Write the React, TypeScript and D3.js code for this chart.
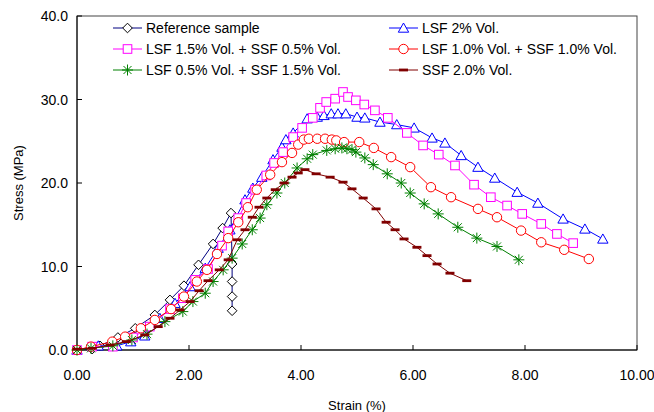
import * as d3 from 'd3';

const xTicks = [0, 2, 4, 6, 8, 10];
const yTicks = [0, 10, 20, 30, 40];

// [strain %, stress MPa]
const referenceSample = [
  [0, 0], [0.27, 0.1], [0.41, 0.5], [0.73, 1.5], [1.04, 2.6], [1.39, 4.2], [1.66, 6.0],
  [1.91, 7.7], [2.17, 10.2], [2.43, 12.7], [2.6, 14.6], [2.75, 16.4], [2.77, 10.3],
  [2.77, 8.2], [2.77, 6.4], [2.77, 4.7],
];
const lsf2 = [
  [0, 0], [0.38, 0.5], [0.71, 0.5], [0.96, 1.0], [1.21, 1.7], [1.48, 3.8], [1.75, 5.6],
  [2.02, 7.6], [2.29, 9.8], [2.52, 12.2], [2.73, 14.4], [3.0, 18.0], [3.14, 19.4],
  [3.3, 20.7], [3.5, 22.8], [3.66, 24.3], [3.73, 25.2], [3.86, 26.0], [4.11, 27.7],
  [4.29, 27.9], [4.41, 28.1], [4.54, 28.3], [4.66, 28.3], [4.8, 28.3], [5.0, 27.9],
  [5.14, 27.8], [5.41, 27.3], [5.71, 27.0], [6.02, 26.6], [6.34, 25.4], [6.57, 24.8],
  [6.86, 23.3], [7.16, 21.9], [7.46, 20.6], [7.86, 18.9], [8.23, 17.6], [8.68, 15.7],
  [9.07, 14.5], [9.39, 13.3],
];
const lsf15ssf05 = [
  [0, 0], [0.27, 0.4], [0.64, 0.4], [1.0, 1.5], [1.3, 2.8], [1.66, 4.9], [1.89, 6.2],
  [2.11, 8.4], [2.34, 9.7], [2.59, 12.5], [2.7, 14.2], [2.88, 15.8], [3.02, 17.6],
  [3.18, 19.2], [3.38, 20.9], [3.52, 22.4], [3.68, 23.7], [3.86, 25.5], [4.02, 26.6],
  [4.21, 27.8], [4.34, 29.0], [4.45, 29.7], [4.61, 30.1], [4.75, 30.9], [4.84, 30.3],
  [4.98, 29.9], [5.13, 29.4], [5.32, 28.7], [5.55, 27.8], [5.89, 26.0], [6.18, 24.5],
  [6.46, 23.4], [6.75, 22.1], [7.09, 19.8], [7.39, 18.3], [7.68, 17.3], [7.95, 16.3],
  [8.29, 15.1], [8.57, 13.9], [8.86, 12.8],
];
const lsf10ssf10 = [
  [0, 0], [0.25, 0.4], [0.63, 1.0], [0.86, 1.6], [1.14, 2.6], [1.39, 3.6], [1.68, 4.9],
  [1.91, 6.4], [2.14, 8.2], [2.32, 9.6], [2.5, 11.5], [2.7, 13.4], [2.88, 15.3],
  [3.05, 17.1], [3.21, 19.2], [3.45, 21.0], [3.66, 22.5], [3.84, 23.6], [3.95, 24.6],
  [4.05, 25.2], [4.14, 25.3], [4.29, 25.3], [4.43, 25.3], [4.55, 25.2], [4.63, 25.1],
  [4.77, 24.9], [5.04, 24.9], [5.3, 24.2], [5.61, 23.1], [5.95, 21.9], [6.32, 19.5],
  [6.68, 18.3], [7.16, 16.9], [7.5, 15.9], [7.93, 14.3], [8.29, 12.9], [8.7, 12.0],
  [9.14, 10.9],
];
const lsf05ssf15 = [
  [0, 0], [0.25, 0.2], [0.64, 0.5], [0.98, 1.2], [1.25, 1.9], [1.57, 3.4], [1.89, 4.6],
  [2.07, 5.8], [2.29, 6.8], [2.43, 8.2], [2.61, 9.6], [2.77, 11.0], [2.95, 12.7],
  [3.13, 14.4], [3.27, 15.8], [3.39, 17.4], [3.57, 18.8], [3.71, 20.0], [3.93, 21.8],
  [4.11, 22.9], [4.21, 23.4], [4.46, 23.9], [4.61, 24.1], [4.73, 24.2], [4.82, 24.1],
  [4.91, 24.0], [4.98, 23.7], [5.14, 23.0], [5.29, 22.2], [5.54, 21.1], [5.79, 20.0],
  [5.95, 18.8], [6.2, 17.5], [6.45, 16.3], [6.8, 14.7], [7.14, 13.4], [7.5, 12.4],
  [7.89, 10.8],
];
const ssf2 = [
  [0, 0.1], [0.27, 0.2], [0.59, 0.6], [0.88, 1.0], [1.21, 1.8], [1.45, 2.8], [1.66, 3.8],
  [1.84, 4.8], [2.02, 5.8], [2.18, 7.1], [2.34, 8.3], [2.54, 9.6], [2.7, 10.8],
  [2.86, 13.2], [3.0, 14.4], [3.13, 15.9], [3.25, 17.1], [3.39, 18.2], [3.54, 19.2],
  [3.7, 20.0], [3.84, 20.7], [3.95, 21.2], [4.07, 21.6], [4.27, 21.1], [4.52, 20.7],
  [4.75, 20.1], [4.91, 19.3], [5.11, 18.2], [5.34, 16.9], [5.52, 15.3], [5.68, 14.4],
  [5.84, 13.3], [6.07, 12.3], [6.25, 11.3], [6.43, 10.3], [6.66, 9.2], [6.96, 8.3],
];

const series = [
  { name: 'Reference sample', data: referenceSample, line: '#000080', color: '#000000', marker: 'diamond', col: 0, row: 0 },
  { name: 'LSF 2% Vol.', data: lsf2, line: '#0000FF', color: '#0000FF', marker: 'triangle', col: 1, row: 0 },
  { name: 'LSF 1.5% Vol. + SSF 0.5% Vol.', data: lsf15ssf05, line: '#FF00FF', color: '#FF00FF', marker: 'square', col: 0, row: 1 },
  { name: 'LSF 1.0% Vol. + SSF 1.0% Vol.', data: lsf10ssf10, line: '#FF0000', color: '#FF0000', marker: 'circle', col: 1, row: 1 },
  { name: 'LSF 0.5% Vol. + SSF 1.5% Vol.', data: lsf05ssf15, line: '#008000', color: '#008000', marker: 'star', col: 0, row: 2 },
  { name: 'SSF 2.0% Vol.', data: ssf2, line: '#800000', color: '#800000', marker: 'dash', col: 1, row: 2 },
];

const W = 654;
const H = 412;
const left = 77;
const right = 637;
const top = 16;
const bottom = 350;

function Marker({ type, color, x, y }: { type: string; color: string; x: number; y: number }) {
  const t = `translate(${x},${y})`;
  if (type === 'diamond') return <path transform={t} d="M0,-4.8L4.8,0L0,4.8L-4.8,0Z" fill="#fff" stroke={color} strokeWidth={1} />;
  if (type === 'triangle') return <path transform={t} d="M0,-5L5.2,4.2L-5.2,4.2Z" fill="#fff" stroke={color} strokeWidth={1} />;
  if (type === 'square') return <rect transform={t} x={-4.3} y={-4.3} width={8.6} height={8.6} fill="#fff" stroke={color} strokeWidth={1} />;
  if (type === 'circle') return <circle transform={t} r={4.7} fill="#fff" stroke={color} strokeWidth={1} />;
  if (type === 'star') return <path transform={t} d="M-5.5,0L5.5,0M0,-5.5L0,5.5M-4,-4L4,4M-4,4L4,-4" fill="none" stroke={color} strokeWidth={1} />;
  return <rect transform={t} x={-4.5} y={-1.4} width={9} height={2.8} fill={color} />;
}

export default function App() {
  const x = d3.scaleLinear().domain([0, 10]).range([left, right]);
  const y = d3.scaleLinear().domain([0, 40]).range([bottom, top]);
  const line = d3.line<number[]>().x(d => x(d[0])).y(d => y(d[1]));
  const font = 'Arial, "Liberation Sans", sans-serif';

  return (
    <svg width={W} height={H} style={{ position: 'absolute', left: 0, top: 0, background: '#fff' }} fontFamily={font}>
      <rect x={left} y={top} width={right - left} height={bottom - top} fill="#fff" stroke="#444" strokeWidth={1} />
      <line x1={left} x2={left} y1={top} y2={bottom} stroke="#000" />
      <line x1={left} x2={right} y1={bottom} y2={bottom} stroke="#000" />
      {yTicks.map(t => (
        <g key={'y' + t}>
          <line x1={left} x2={left + 5} y1={y(t)} y2={y(t)} stroke="#000" />
          <text x={left - 9} y={y(t) + 5} fontSize={14} textAnchor="end" fill="#000">{t.toFixed(1)}</text>
        </g>
      ))}
      {xTicks.map(t => (
        <g key={'x' + t}>
          <line x1={x(t)} x2={x(t)} y1={bottom} y2={bottom - 5} stroke="#000" />
          <text x={x(t)} y={380} fontSize={14} textAnchor="middle" fill="#000">{t.toFixed(2)}</text>
        </g>
      ))}
      <text x={(left + right) / 2} y={410} fontSize={13} textAnchor="middle">Strain (%)</text>
      <text transform={`translate(23,${(top + bottom) / 2}) rotate(-90)`} fontSize={13} textAnchor="middle">Stress (MPa)</text>
      {series.map(s => (
        <g key={s.name}>
          <path d={line(s.data) || ''} fill="none" stroke={s.line} strokeWidth={1} />
          {s.data.map((d, i) => (
            <Marker key={i} type={s.marker} color={s.color} x={x(d[0])} y={y(d[1])} />
          ))}
        </g>
      ))}
      {series.map(s => {
        const lx = s.col === 0 ? 113 : 389;
        const ly = 28 + s.row * 21;
        return (
          <g key={'lg' + s.name}>
            <line x1={lx} x2={lx + 29} y1={ly} y2={ly} stroke={s.line} />
            <Marker type={s.marker} color={s.color} x={lx + 14.5} y={ly} />
            <text x={lx + 33} y={ly + 5} fontSize={14} fill="#000">{s.name}</text>
          </g>
        );
      })}
    </svg>
  );
}
